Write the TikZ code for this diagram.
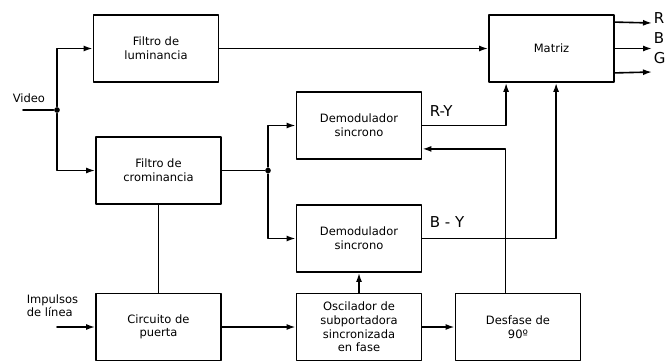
\documentclass[tikz,border=0pt]{standalone}
\usepackage{fontspec}
\setmainfont{DejaVu Sans}
\usetikzlibrary{arrows.meta,calc}

\begin{document}
\begin{tikzpicture}[
		x=1pt,
		y=-1pt,
		>={Latex[length=9pt,width=6pt]},
		line width=1.6pt,
		line cap=round,
		line join=round,
		block/.style={draw,line width=1.8pt,minimum width=125pt,minimum height=67pt,align=center,inner sep=2pt,font=\fontsize{11.5}{13.6}\selectfont},
		junction/.style={circle,fill,inner sep=2pt},
		note/.style={font=\fontsize{11.5}{13}\selectfont,align=left,inner sep=0pt},
		signal/.style={font=\fontsize{15}{15}\selectfont,inner sep=0pt}
	]
	
	% Frame
	\useasboundingbox (0,0) rectangle (668,362);
	
	% Blocks
	\node[block] (lum)    at (156,48.5)   {Filtro de\\luminancia};
	\node[block] (crom)   at (158.5,170.5) {Filtro de\\crominancia};
	\node[block] (demry)  at (359,125.5)  {Demodulador\\sincrono};
	\node[block] (demby)  at (359,238.5)  {Demodulador\\sincrono};
	\node[block] (matriz) at (551.5,48.5) {Matriz};
	\node[block] (puerta) at (158.5,327)  {Circuito de\\puerta};
	\node[block] (osc)    at (359,327)    {Oscilador de\\subportadora\\sincronizada\\en fase};
	\node[block] (desf)   at (518,327)    {Desfase de\\90º};
	
	% Inputs
	\coordinate (vin) at (23,110);
	\node[junction] (jv) at (57,110) {};
	\node[note,anchor=base west] (video) at (12,102) {Video};
	\coordinate (imp) at (57,327);
	\node[note,anchor=north west] (impulsos) at (26,294) {Impulsos\\de línea};
	
	% Video split
	\draw (vin) -- (jv);
	\draw[->] (jv) |- (lum);
	\draw[->] (jv) |- (crom);
	\draw[->] (lum) -- (matriz);
	
	% Chroma to demodulators
	\node[junction] (jc) at (268,170.5) {};
	\draw (crom) -- (jc);
	\draw[->] (jc) |- (demry);
	\draw[->] (jc) |- (demby);
	\draw (crom) -- (puerta);
	
	% Colour difference signals into the matrix
	\coordinate (mry) at ($(matriz.south west)+(18,0)$);
	\coordinate (mby) at ($(matriz.south west)+(68,0)$);
	\draw[->] (demry) -| (mry);
	\draw[->] (demby) -| (mby);
	\node[signal,anchor=west] (ry) at (429,111) {R-Y};
	\node[signal,anchor=west] (by) at (429,222) {B - Y};
	
	% Subcarrier chain
	\draw[->] (imp) -- (puerta);
	\draw[->] (puerta) -- (osc);
	\draw[->] (osc) -- (desf);
	\draw[->] (osc) -- (demby);
	\coordinate (dtop) at ($(desf.north west)+(51,0)$);
	\coordinate (dryin) at ($(demry.south east)+(0,-11)$);
	\draw[->] (dtop) |- (dryin);
	
	% Outputs
	\coordinate (r0) at ($(matriz.north east)+(0,8)$);
	\coordinate (b0) at (matriz.east);
	\coordinate (g0) at ($(matriz.south east)+(0,-10)$);
	\coordinate (r1) at (652,23);
	\coordinate (b1) at (652,48.5);
	\coordinate (g1) at (652,72);
	\draw[->] (r0) -- (r1);
	\draw[->] (b0) -- (b1);
	\draw[->] (g0) -- (g1);
	\node[signal,anchor=west] (rlab) at (653,18) {R};
	\node[signal,anchor=west] (blab) at (653,38) {B};
	\node[signal,anchor=west] (glab) at (653,58) {G};
	
\end{tikzpicture}
\end{document}
